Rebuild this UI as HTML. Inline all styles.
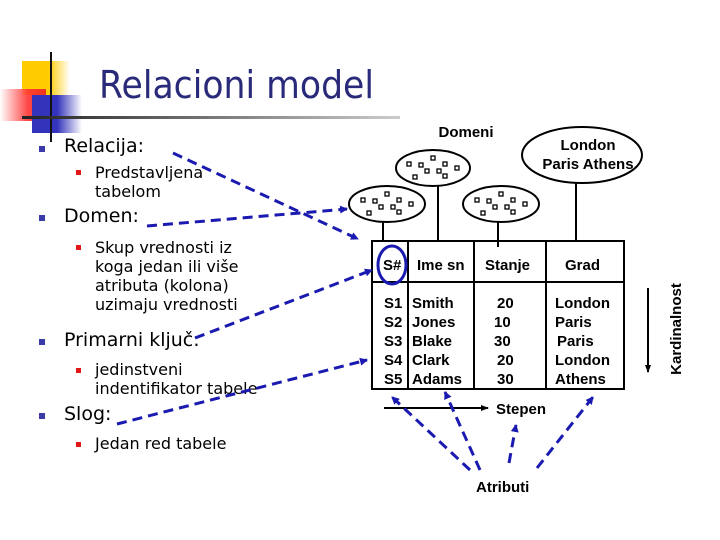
<!DOCTYPE html>
<html><head><meta charset="utf-8"><style>
html,body{margin:0;padding:0;background:#fff;}
svg{display:block;font-family:"Liberation Sans",Arial,sans-serif;}
</style></head><body>
<svg width="720" height="540" viewBox="0 0 720 540" xmlns="http://www.w3.org/2000/svg">
<defs>
<linearGradient id="yel" x1="0" x2="1"><stop offset="0" stop-color="#ffcc00"/><stop offset="0.55" stop-color="#ffcc00"/><stop offset="1" stop-color="#fff"/></linearGradient>
<linearGradient id="red" x1="0" x2="1"><stop offset="0" stop-color="#fff"/><stop offset="0.6" stop-color="#ff3333"/><stop offset="1" stop-color="#ee2222"/></linearGradient>
<linearGradient id="blu" x1="0" x2="1"><stop offset="0" stop-color="#3333bb"/><stop offset="0.5" stop-color="#3333bb"/><stop offset="1" stop-color="#fff"/></linearGradient>
<linearGradient id="hl" x1="0" x2="1"><stop offset="0" stop-color="#222"/><stop offset="1" stop-color="#ccc"/></linearGradient>
<marker id="ab" markerWidth="8" markerHeight="8" refX="7" refY="4" orient="auto" markerUnits="userSpaceOnUse"><path d="M0,0 L8,4 L0,8 z" fill="#1a1ab0"/></marker>
<marker id="ak" markerWidth="8" markerHeight="8" refX="7" refY="4" orient="auto" markerUnits="userSpaceOnUse"><path d="M0,1 L8,4 L0,7 z" fill="#000"/></marker>
<g id="dots" fill="#fff" stroke="#000" stroke-width="1.3">
<rect x="-24" y="-6" width="4" height="4"/><rect x="-12" y="-5" width="4" height="4"/><rect x="0" y="-12" width="4" height="4"/>
<rect x="-6" y="1" width="4" height="4"/><rect x="6" y="1" width="4" height="4"/><rect x="12" y="-6" width="4" height="4"/>
<rect x="-18" y="7" width="4" height="4"/><rect x="12" y="6" width="4" height="4"/><rect x="24" y="-2" width="4" height="4"/>
</g>
</defs>
<rect x="22" y="61" width="48" height="34" fill="url(#yel)"/>
<rect x="0" y="89" width="46" height="32" fill="url(#red)" opacity="0.9"/>
<rect x="32" y="95" width="50" height="38" fill="url(#blu)"/>
<line x1="51" y1="52" x2="51" y2="142" stroke="#111" stroke-width="2"/>
<rect x="22" y="116" width="378" height="3" fill="url(#hl)"/>
<text x="99" y="98" font-size="38" fill="#2a2a7a" font-family="DejaVu Sans, Liberation Sans, sans-serif" textLength="275" lengthAdjust="spacingAndGlyphs">Relacioni model</text>
<g fill="#3a3aa8"><rect x="39" y="146" width="6" height="6"/><rect x="39" y="215" width="6" height="6"/><rect x="39" y="339" width="6" height="6"/><rect x="39" y="413" width="6" height="6"/></g>
<g fill="#e01818"><rect x="76" y="170" width="5" height="5"/><rect x="76" y="245" width="5" height="5"/><rect x="76" y="368" width="5" height="5"/><rect x="76" y="442" width="5" height="5"/></g>
<g font-family="DejaVu Sans, Liberation Sans, sans-serif" fill="#000">
<text x="64" y="152" font-size="19">Relacija:</text>
<text x="95" y="178" font-size="16">Predstavljena</text>
<text x="95" y="197" font-size="16">tabelom</text>
<text x="64" y="222" font-size="19">Domen:</text>
<text x="95" y="253" font-size="16">Skup vrednosti iz</text>
<text x="95" y="272" font-size="16">koga jedan ili više</text>
<text x="95" y="291" font-size="16">atributa (kolona)</text>
<text x="95" y="310" font-size="16">uzimaju vrednosti</text>
<text x="64" y="346" font-size="19">Primarni ključ:</text>
<text x="95" y="375" font-size="16">jedinstveni</text>
<text x="95" y="394" font-size="16">indentifikator tabele</text>
<text x="64" y="420" font-size="19">Slog:</text>
<text x="95" y="449" font-size="16">Jedan red tabele</text>
</g>
<g fill="none" stroke="#000" stroke-width="2">
<ellipse cx="387" cy="204" rx="38" ry="18"/>
<ellipse cx="433" cy="168" rx="37" ry="18"/>
<ellipse cx="501" cy="204" rx="38" ry="18"/>
<ellipse cx="582" cy="155" rx="60" ry="28"/>
<line x1="383" y1="222" x2="383" y2="241"/>
<line x1="438" y1="186" x2="438" y2="241"/>
<line x1="498" y1="222" x2="498" y2="247"/>
<line x1="576" y1="183" x2="576" y2="241"/>
</g>
<use href="#dots" x="385" y="204"/><use href="#dots" x="431" y="168"/><use href="#dots" x="499" y="204"/>
<text x="466" y="137" font-size="15" text-anchor="middle" font-weight="bold">Domeni</text>
<text x="588" y="150" font-size="15" text-anchor="middle" font-weight="bold">London</text>
<text x="588" y="169" font-size="15" text-anchor="middle" font-weight="bold">Paris Athens</text>
<g fill="none" stroke="#000" stroke-width="2">
<rect x="372" y="241" width="252" height="148"/>
<line x1="372" y1="282" x2="624" y2="282"/>
<line x1="408" y1="241" x2="408" y2="389"/>
<line x1="474" y1="241" x2="474" y2="389"/>
<line x1="546" y1="241" x2="546" y2="389"/>
</g>
<g font-size="15" fill="#000" font-weight="bold">
<text x="383" y="270">S#</text>
<text x="417" y="270">Ime sn</text>
<text x="485" y="270">Stanje</text>
<text x="565" y="270">Grad</text>
<text x="384" y="308">S1</text><text x="384" y="327">S2</text><text x="384" y="346">S3</text><text x="384" y="365">S4</text><text x="384" y="384">S5</text>
<text x="412" y="308">Smith</text><text x="412" y="327">Jones</text><text x="412" y="346">Blake</text><text x="412" y="365">Clark</text><text x="412" y="384">Adams</text>
<text x="497" y="308">20</text><text x="494" y="327">10</text><text x="494" y="346">30</text><text x="497" y="365">20</text><text x="497" y="384">30</text>
<text x="555" y="308">London</text><text x="555" y="327">Paris</text><text x="557" y="346">Paris</text><text x="555" y="365">London</text><text x="555" y="384">Athens</text>
</g>
<ellipse cx="392" cy="265" rx="14" ry="19" fill="none" stroke="#1a1ab0" stroke-width="3"/>
<line x1="648" y1="288" x2="648" y2="372" stroke="#000" stroke-width="2" marker-end="url(#ak)"/>
<text transform="translate(681,329) rotate(-90)" font-size="15" text-anchor="middle" font-weight="bold">Kardinalnost</text>
<line x1="384" y1="408" x2="488" y2="408" stroke="#000" stroke-width="2" marker-end="url(#ak)"/>
<text x="496" y="414" font-size="15" font-weight="bold">Stepen</text>
<text x="476" y="492" font-size="15" font-weight="bold">Atributi</text>
<g stroke="#1a1ab0" stroke-width="3" stroke-dasharray="10,6" fill="none" marker-end="url(#ab)">
<line x1="173" y1="153" x2="358" y2="239"/>
<line x1="147" y1="226" x2="347" y2="209"/>
<line x1="195" y1="338" x2="372" y2="270"/>
<line x1="117" y1="424" x2="367" y2="360"/>
<line x1="470" y1="470" x2="392" y2="397"/>
<line x1="480" y1="470" x2="445" y2="392"/>
<line x1="509" y1="463" x2="516" y2="425"/>
<line x1="537" y1="468" x2="593" y2="397"/>
</g>
</svg>
</body></html>
